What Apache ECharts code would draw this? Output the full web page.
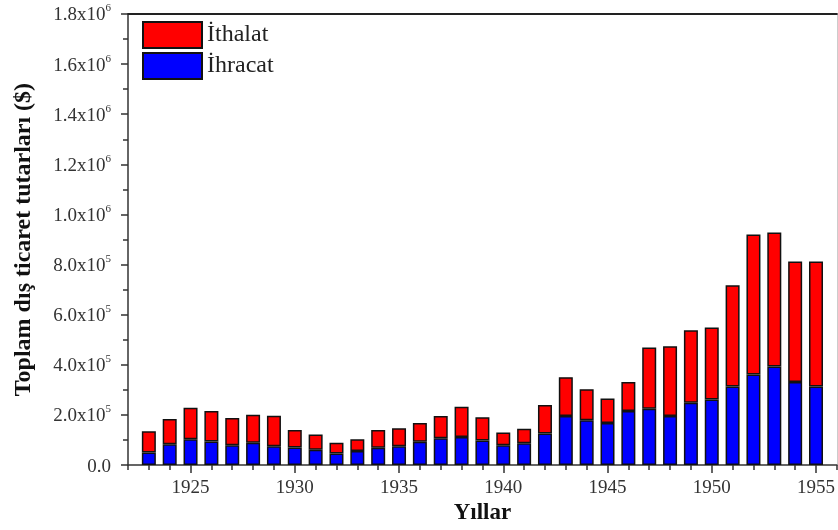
<!DOCTYPE html>
<html>
<head>
<meta charset="utf-8">
<script src="https://cdn.jsdelivr.net/npm/echarts@6/dist/echarts.min.js"></script>
<style>
html,body{margin:0;padding:0;background:#fff;}
#c{width:838px;height:530px;}
</style>
</head>
<body>
<div id="c"></div>
<script>
const years = [1923,1924,1925,1926,1927,1928,1929,1930,1931,1932,1933,1934,1935,1936,1937,1938,1939,1940,1941,1942,1943,1944,1945,1946,1947,1948,1949,1950,1951,1952,1953,1954,1955];
const ihracat = [50000,83000,103000,94000,79000,89000,75000,70000,61000,46000,56000,69000,75000,93000,107000,112000,98000,79000,87000,126000,196000,179000,168000,216000,225000,196000,249000,262000,314000,362000,393000,332000,314000];
const ithalat = [85000,101000,126000,122000,109000,112000,122000,70000,61000,43000,47000,71000,72000,75000,89000,121000,93000,51000,58000,114000,155000,124000,98000,116000,244000,278000,289000,287000,404000,558000,535000,480000,498000];
const axisYears = [1922,1923,1924,1925,1926,1927,1928,1929,1930,1931,1932,1933,1934,1935,1936,1937,1938,1939,1940,1941,1942,1943,1944,1945,1946,1947,1948,1949,1950,1951,1952,1953,1954,1955,1956];
const majorYears = [1925,1930,1935,1940,1945,1950,1955];
const seriesNames = ['İthalat','İhracat'];

const FONT = 'Liberation Serif';
const chart = echarts.init(document.getElementById('c'), null, {renderer:'canvas'});

function yFmt(v){
  if (v === 0) return '{a|0.0}';
  const e = Math.floor(Math.log10(v) + 1e-9);
  const m = (v / Math.pow(10, e)).toFixed(1);
  return '{a|' + m + 'x10}{s|' + e + '}';
}

const axisCol = '#333';
const cats = axisYears.map(String);
chart.setOption({
  animation:false,
  backgroundColor:'#fff',
  grid:{left:128,right:1,top:14,bottom:63},
  legend:{
    orient:'vertical',left:137,top:16,itemWidth:59,itemHeight:26,itemGap:3,icon:'rect',
    data:[seriesNames[0],seriesNames[1]],
    textStyle:{fontFamily:FONT,fontSize:24,color:'#222'}
  },
  xAxis:[
    {type:'category',data:cats,boundaryGap:false,show:false},
    {type:'value',min:1922,max:1956,position:'bottom',
     axisLine:{show:true,lineStyle:{color:axisCol,width:1.5}},
     axisTick:{show:true,customValues:majorYears,length:8,lineStyle:{color:axisCol,width:1.5}},
     axisLabel:{customValues:majorYears,margin:13,fontFamily:FONT,fontSize:19,color:'#333',formatter:v=>String(v)},
     splitLine:{show:false},
     name:'Yıllar',nameLocation:'middle',nameGap:35,
     nameTextStyle:{fontFamily:FONT,fontSize:23,fontWeight:'bold',color:'#111'}},
    {type:'value',min:1922,max:1956,position:'bottom',
     axisLine:{show:false},
     axisTick:{show:true,customValues:axisYears,length:5,lineStyle:{color:axisCol,width:1.5}},
     axisLabel:{show:false},splitLine:{show:false}},
    {type:'value',min:1922,max:1956,position:'top',
     axisLine:{show:true,lineStyle:{color:'#222',width:2}},
     axisTick:{show:false},axisLabel:{show:false},splitLine:{show:false}}
  ],
  yAxis:[
    {type:'value',min:0,max:1800000,interval:200000,position:'left',
     axisLine:{show:true,lineStyle:{color:axisCol,width:1.5}},
     axisTick:{show:true,length:7,lineStyle:{color:axisCol,width:1.5}},
     minorTick:{show:true,splitNumber:2,length:5,lineStyle:{color:axisCol,width:1.5}},
     splitLine:{show:false},
     axisLabel:{margin:17,formatter:yFmt,
       rich:{a:{fontFamily:FONT,fontSize:19,color:'#333',lineHeight:22,verticalAlign:'bottom'},
             s:{fontFamily:FONT,fontSize:11,color:'#333',lineHeight:22,verticalAlign:'top'}}},
     name:'Toplam dış ticaret tutarları ($)',nameLocation:'middle',nameGap:92,
     nameTextStyle:{fontFamily:FONT,fontSize:24,fontWeight:'bold',color:'#111'}},
    {type:'value',min:0,max:1800000,position:'right',
     axisLine:{show:true,lineStyle:{color:'#ccc',width:1}},
     axisTick:{show:false},axisLabel:{show:false},splitLine:{show:false}}
  ],
  series:[
    {name:seriesNames[1],type:'bar',stack:'t',xAxisIndex:0,yAxisIndex:0,barWidth:14,
     itemStyle:{color:'#0000ff',borderColor:'#111',borderWidth:1.5},
     data:years.map((y,i)=>[String(y),ihracat[i]])},
    {name:seriesNames[0],type:'bar',stack:'t',xAxisIndex:0,yAxisIndex:0,barWidth:14,
     itemStyle:{color:'#ff0000',borderColor:'#111',borderWidth:1.5},
     data:years.map((y,i)=>[String(y),ithalat[i]])}
  ]
});
</script>
</body>
</html>
